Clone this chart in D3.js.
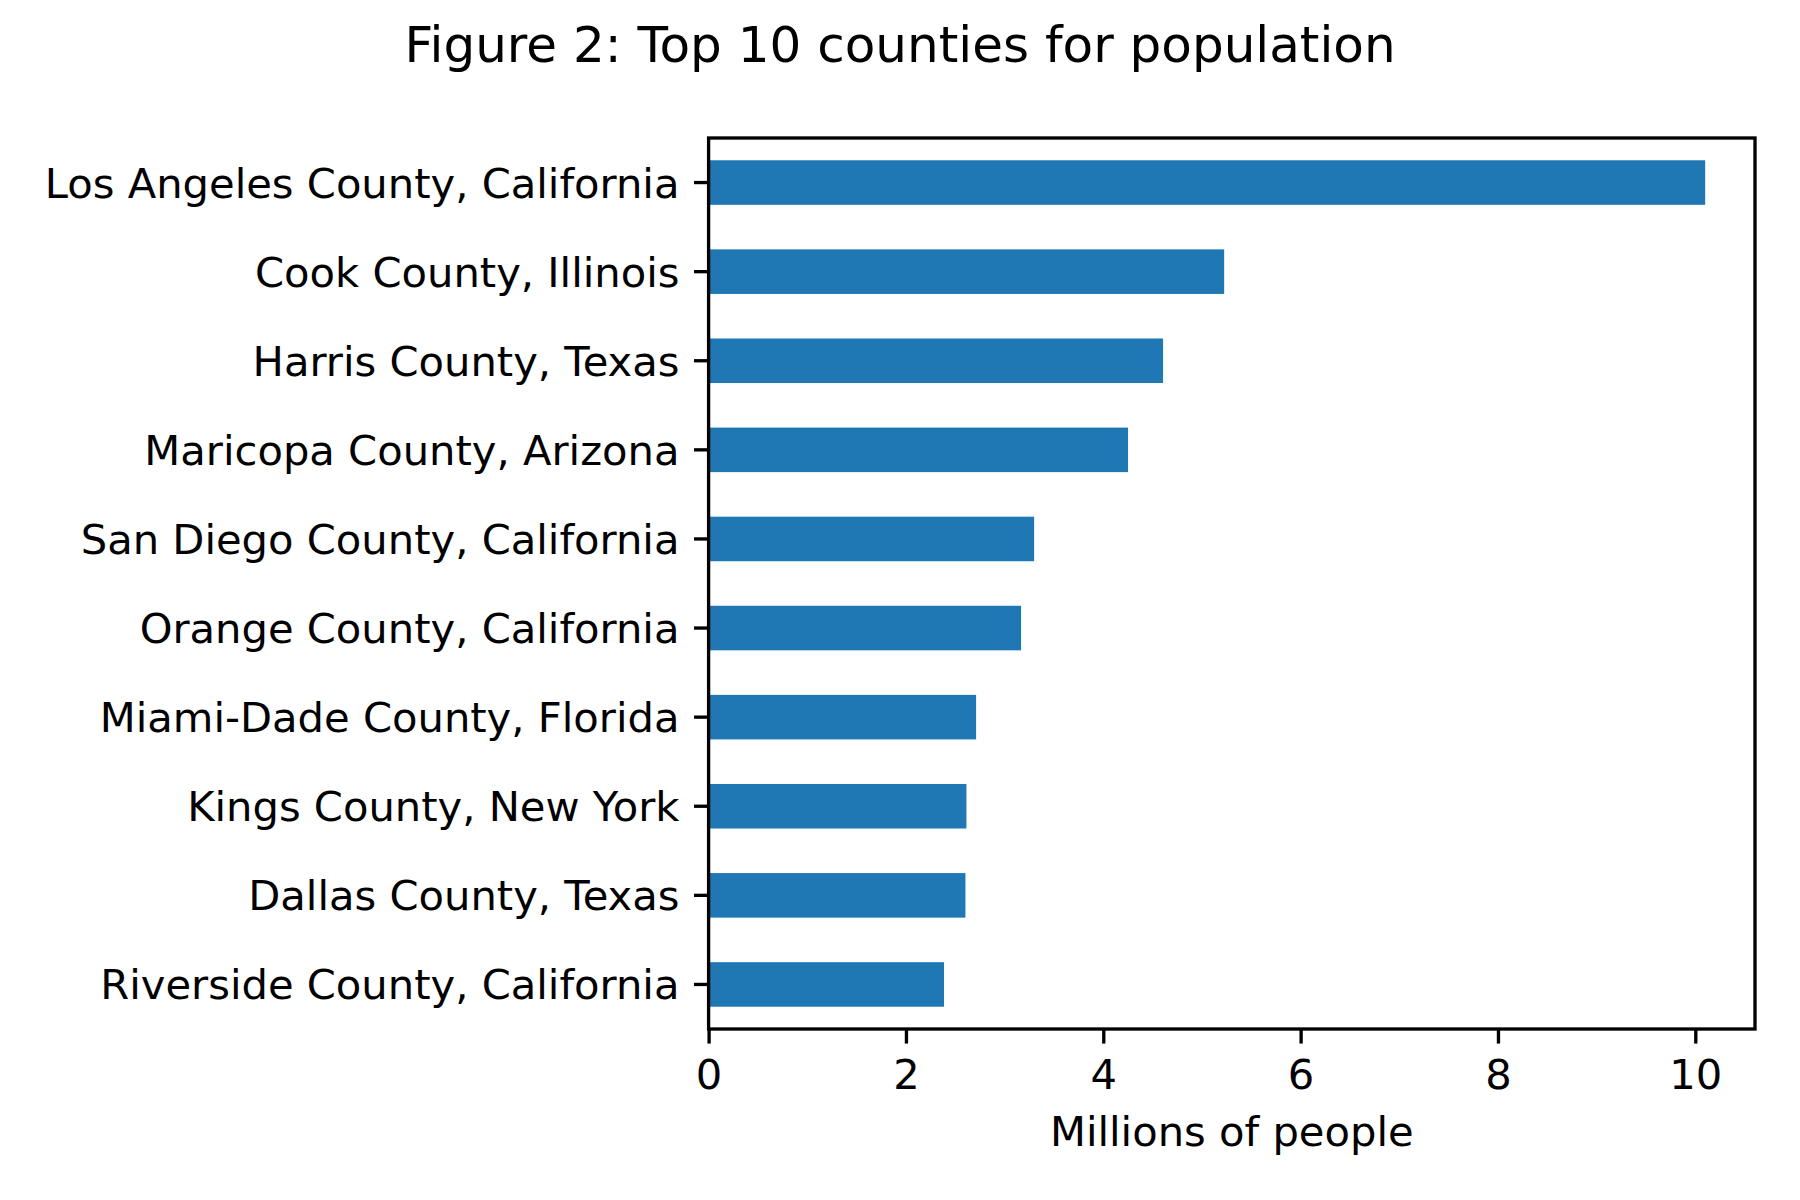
<!DOCTYPE html>
<html>
<meta charset="utf-8">
<head>
    <script src="https://d3js.org/d3.v7.min.js"></script>
    <style>
        body { margin: 0; background: #fff; }
        text { font-family: "DejaVu Sans", sans-serif; fill: #000; }
    </style>
</head>
<body>
    <div id="my_dataviz"></div>
</body>

<script>
    // data (millions of people)
    const counties = [
        "Los Angeles County, California",
        "Cook County, Illinois",
        "Harris County, Texas",
        "Maricopa County, Arizona",
        "San Diego County, California",
        "Orange County, California",
        "Miami-Dade County, Florida",
        "Kings County, New York",
        "Dallas County, Texas",
        "Riverside County, California"
    ];
    const population = [10.10, 5.225, 4.606, 4.251, 3.299, 3.167, 2.711, 2.613, 2.603, 2.386];
    const xTicks = [0, 2, 4, 6, 8, 10];

    const W = 1800, H = 1200;
    const margin = { top: 138, right: 45, bottom: 171, left: 708.6 },
        width = W - margin.left - margin.right,
        height = H - margin.top - margin.bottom;

    const pt = 300 / 72;           // figure was saved at 300 dpi
    const tickLen = 3.5 * pt, tickPad = 3.5 * pt, lw = 0.8 * pt;

    const svg = d3.select("#my_dataviz")
        .append("svg")
            .attr("width", W)
            .attr("height", H)
        .append("g")
            .attr("transform", `translate(${margin.left}, ${margin.top})`);

    // X scale, matplotlib-style 5% margin past the longest bar
    const x = d3.scaleLinear()
        .domain([0, d3.max(population) * 1.05])
        .range([0, width]);

    // Y scale, bars take half of each slot
    const y = d3.scaleBand()
        .domain(counties)
        .range([0, height])
        .paddingInner(0.5)
        .paddingOuter(0.25);

    // bars
    svg.selectAll("rect.bar")
        .data(counties)
        .join("rect")
            .attr("class", "bar")
            .attr("x", x(0))
            .attr("y", d => y(d))
            .attr("width", (d, i) => x(population[i]) - x(0))
            .attr("height", y.bandwidth())
            .attr("fill", "#1f77b4");

    // X axis
    const xAxis = svg.append("g")
        .attr("transform", `translate(0, ${height})`)
        .call(d3.axisBottom(x).tickValues(xTicks).tickFormat(d3.format("d"))
            .tickSize(tickLen).tickPadding(tickPad));
    xAxis.select(".domain").remove();
    xAxis.selectAll(".tick line").attr("stroke", "#000").attr("stroke-width", lw);
    xAxis.selectAll(".tick text")
        .attr("font-size", 10 * pt)
        .attr("dy", null)
        .attr("y", tickLen + tickPad + 31);

    // Y axis
    const yAxis = svg.append("g")
        .call(d3.axisLeft(y).tickSize(tickLen).tickPadding(tickPad));
    yAxis.select(".domain").remove();
    yAxis.selectAll(".tick line").attr("stroke", "#000").attr("stroke-width", lw);
    yAxis.selectAll(".tick text")
        .attr("font-size", 10 * pt)
        .attr("dy", "0.36em");

    // frame
    svg.append("rect")
        .attr("x", 0)
        .attr("y", 0)
        .attr("width", width)
        .attr("height", height)
        .attr("fill", "none")
        .attr("stroke", "#000")
        .attr("stroke-width", lw)
        .attr("stroke-linejoin", "miter");

    // x label
    svg.append("text")
        .attr("x", width / 2)
        .attr("y", 1146 - margin.top)
        .attr("text-anchor", "middle")
        .attr("font-size", 10 * pt)
        .text("Millions of people");

    // title, centred on the whole figure
    svg.append("text")
        .attr("x", W / 2 - margin.left)
        .attr("y", 62 - margin.top)
        .attr("text-anchor", "middle")
        .attr("font-size", 12 * pt)
        .text("Figure 2: Top 10 counties for population");
</script>
</html>
